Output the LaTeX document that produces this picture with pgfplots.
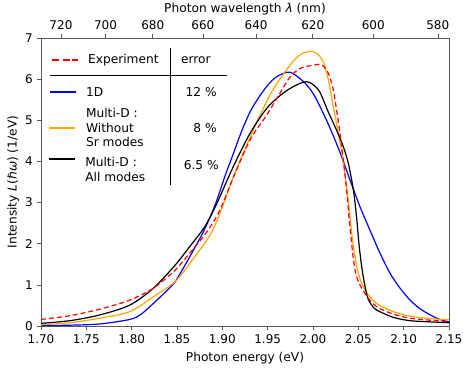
\documentclass[border=0pt]{standalone}
\usepackage{fontspec}
\setmainfont{DejaVu Sans}
\usepackage{pgfplots}
\pgfplotsset{compat=1.18}

\definecolor{mplorange}{HTML}{FFA500}
\definecolor{framegray}{gray}{0.35}
\definecolor{exred}{HTML}{FF0000}

\begin{document}
\fontsize{12.2}{14.5}\selectfont
\begin{tikzpicture}
\pgfplotsset{
  every axis/.append style={
    scale only axis, width=408pt, height=288pt,
    xmin=1.70, xmax=2.15, ymin=0, ymax=7,
    axis line style={framegray},
    tick style={framegray, line width=0.6pt},
    tick align=outside,
    major tick length=4pt,
    /pgf/number format/assume math mode=true,
    ticklabel style={font=\fontsize{12}{14}\selectfont},
    label style={font=\fontsize{12.2}{14}\selectfont},
  }
}
\begin{axis}[
  at={(0,0)}, anchor=south west,
  xtick={1.70,1.75,1.80,1.85,1.90,1.95,2.00,2.05,2.10,2.15},
  xticklabel style={/pgf/number format/.cd, fixed, fixed zerofill, precision=2},
  ytick={0,1,2,3,4,5,6,7},
  xtick pos=bottom, ytick pos=left,
  xlabel={Photon energy (eV)},
  ylabel={Intensity {\itshape L}(ℏ{\itshape ω}) (1/eV)},
  xlabel style={yshift=-0.5pt},
  ylabel style={yshift=-2.5pt},
  every axis plot/.append style={line width=1.2pt, smooth, tension=0.5},
]
% 1D
\addplot[blue] coordinates {
(1.70,0.01)(1.732,0.02)(1.765,0.05)(1.798,0.16)(1.81,0.28)(1.824,0.55)(1.836,0.80)
(1.848,1.08)(1.864,1.68)(1.877,2.2)(1.886,2.62)(1.894,3.06)(1.903,3.65)(1.912,4.18)
(1.921,4.72)(1.9305,5.2)(1.94,5.55)(1.95,5.85)(1.96,6.06)(1.9746,6.17)(1.989,5.95)
(1.997,5.75)(2.004,5.5)(2.017,4.9)(2.0298,4.22)(2.0408,3.55)(2.0518,2.90)(2.0628,2.33)
(2.0739,1.77)(2.085,1.28)(2.096,0.92)(2.107,0.63)(2.118,0.42)(2.13,0.26)(2.14,0.16)(2.15,0.10)};
% Multi-D without Sr modes
\addplot[mplorange] coordinates {
(1.70,0.03)(1.732,0.08)(1.765,0.19)(1.798,0.35)(1.824,0.71)(1.848,1.08)(1.864,1.52)
(1.883,2.09)(1.892,2.45)(1.901,2.95)(1.91,3.5)(1.92,4.05)(1.93,4.55)(1.94,5.05)
(1.956,5.75)(1.9746,6.34)(1.9857,6.59)(1.9967,6.68)(2.004,6.63)(2.0114,6.42)
(2.0169,5.98)(2.0224,5.33)(2.028,4.68)(2.0334,4.0)(2.037,3.4)(2.0408,2.66)(2.0445,1.93)
(2.05,1.28)(2.0573,0.875)(2.070,0.55)(2.0886,0.35)(2.107,0.24)(2.13,0.18)(2.15,0.15)};
% Multi-D all modes
\addplot[black] coordinates {
(1.70,0.065)(1.732,0.13)(1.765,0.27)(1.798,0.51)(1.824,0.92)(1.848,1.48)(1.864,1.93)
(1.8754,2.25)(1.883,2.50)(1.894,2.98)(1.912,3.87)(1.9305,4.68)(1.949,5.29)(1.967,5.66)
(1.982,5.86)(1.993,5.94)(2.0005,5.86)(2.0077,5.68)(2.0169,5.2)(2.026,4.76)(2.0334,4.36)
(2.039,3.95)(2.0445,3.31)(2.048,2.66)(2.051,1.93)(2.0548,1.28)(2.060,0.71)(2.065,0.5)
(2.070,0.39)(2.0886,0.21)(2.107,0.13)(2.13,0.1)(2.15,0.08)};
% Experiment
\addplot[exred, dash pattern=on 5pt off 3pt] coordinates {
(1.70,0.16)(1.732,0.25)(1.765,0.41)(1.798,0.63)(1.824,0.92)(1.848,1.36)(1.864,1.77)
(1.883,2.29)(1.897,2.8)(1.912,3.6)(1.9305,4.52)(1.949,5.13)(1.9636,5.66)(1.9746,6.05)
(1.9857,6.26)(2.0003,6.34)(2.008,6.36)(2.0114,6.32)(2.017,6.14)(2.0224,5.74)(2.026,5.25)
(2.0298,4.68)(2.0334,4.04)(2.037,3.31)(2.040,2.58)(2.0438,1.77)(2.048,1.2)(2.0573,0.79)
(2.070,0.47)(2.0886,0.29)(2.107,0.19)(2.13,0.14)(2.15,0.105)};
\end{axis}

\begin{axis}[
  at={(0,0)}, anchor=south west,
  axis x line*=top, x axis line style={-},
  axis y line=none,
  xtick={1.72200,1.77120,1.82329,1.87855,1.93725,1.99974,2.06640,2.13766},
  xticklabels={720,700,680,660,640,620,600,580},
  xlabel={Photon wavelength {\itshape λ} (nm)},
  xlabel style={yshift=-3pt},
]
\end{axis}

% table-like legend, in fractions of the axis box
\begin{scope}[x=408pt, y=288pt]
\foreach \a/\b in {0.026/0.045, 0.053/0.070, 0.076/0.090}
  \draw[exred, line width=1.5pt] (\a,0.924) -- (\b,0.924);
\node[anchor=west, inner sep=0pt] at (0.115,0.924) {Experiment};
\node[anchor=west, inner sep=0pt] at (0.343,0.924) {error};
\draw[black, line width=0.6pt] (0.022,0.8715) -- (0.456,0.8715);
\draw[black, line width=0.6pt] (0.318,0.965) -- (0.318,0.490);
\draw[blue, line width=1.2pt] (0.022,0.8125) -- (0.086,0.8125);
\node[anchor=west, inner sep=0pt] at (0.110,0.8125) {1D};
\node[anchor=east, inner sep=0pt] at (0.431,0.8125) {12 \%};
\draw[mplorange, line width=1.2pt] (0.020,0.6875) -- (0.084,0.6875);
\node[anchor=west, inner sep=0pt, align=left, font=\fontsize{12.2}{14.5}\selectfont] at (0.110,0.689) {Multi-D :\\Without\\Sr modes};
\node[anchor=east, inner sep=0pt] at (0.431,0.6875) {8 \%};
\draw[black, line width=1.8pt] (0.020,0.58) -- (0.084,0.58);
\node[anchor=west, inner sep=0pt, align=left, font=\fontsize{12.2}{15}\selectfont] at (0.108,0.545) {Multi-D :\\All modes};
\node[anchor=east, inner sep=0pt] at (0.436,0.559) {6.5 \%};
\end{scope}
\pgfresetboundingbox
\path[use as bounding box] (-41pt,-42pt) rectangle (422pt,326pt);
\end{tikzpicture}
\end{document}
